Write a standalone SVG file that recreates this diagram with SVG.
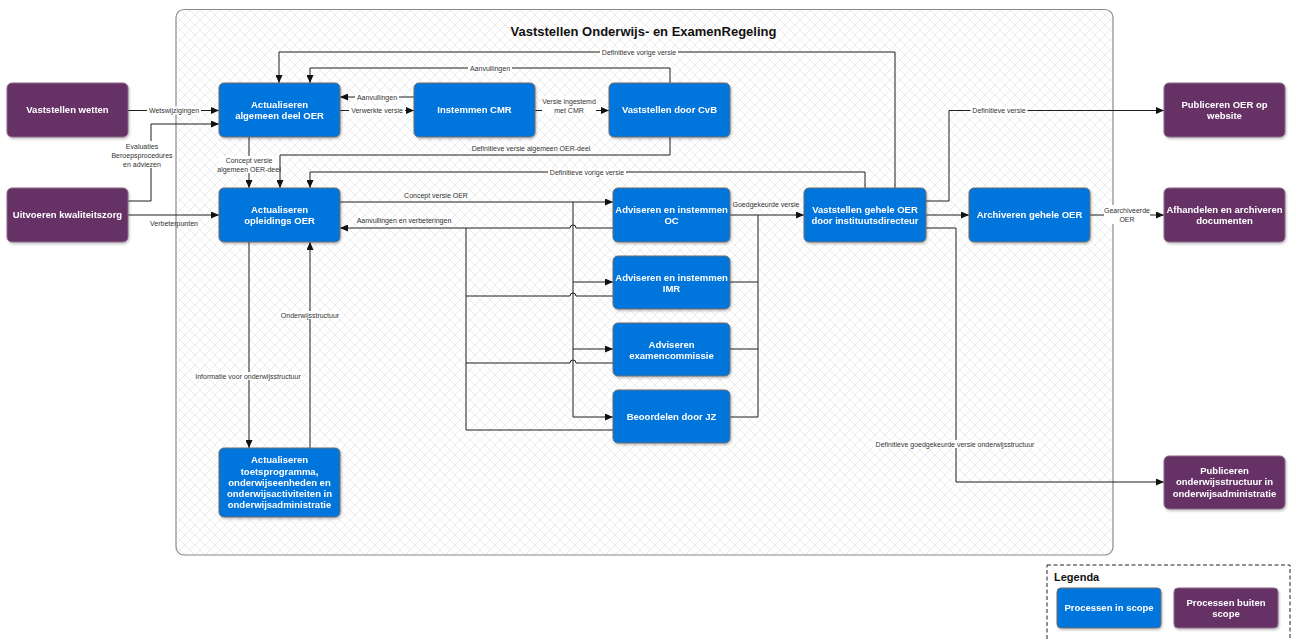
<svg xmlns="http://www.w3.org/2000/svg" width="1293" height="639" viewBox="0 0 1293 639">
<style>
.in{fill:#0274DC;stroke:#6d6d6d;stroke-width:1}
.out{fill:#663366;stroke:#8a6a86;stroke-width:1}
.nt{font-family:"Liberation Sans",Arial,sans-serif;font-weight:bold;font-size:9.5px;fill:#fff;text-anchor:middle}
.ln{fill:none;stroke:#1e1e1e;stroke-width:1}
.ar{marker-end:url(#ah)}
.lb{font-family:"Liberation Sans",Arial,sans-serif;font-size:7px;fill:#333;text-anchor:middle}
.bg{fill:#fff}
</style>
<defs>
<pattern id="hatch" width="10" height="10" patternUnits="userSpaceOnUse">
<rect width="10" height="10" fill="#fff"/>
<path d="M0,0 L10,10 M10,0 L0,10" stroke="#ebebeb" stroke-width="1"/>
</pattern>
<marker id="ah" markerWidth="9" markerHeight="7" refX="8" refY="3.5" orient="auto" markerUnits="userSpaceOnUse">
<path d="M0,0 L8,3.5 L0,7 z" fill="#111"/>
</marker>
<filter id="sh" x="-10%" y="-10%" width="130%" height="140%">
<feDropShadow dx="1" dy="1.5" stdDeviation="1" flood-color="#000" flood-opacity="0.25"/>
</filter>
</defs>

<rect width="1293" height="639" fill="#fff"/>
<g id="container">
<rect x="176" y="9.5" width="937" height="545.5" rx="8" fill="url(#hatch)" stroke="#8a8a8a" stroke-width="1.2"/>
<text x="643.5" y="36" font-family="'Liberation Sans',Arial,sans-serif" font-weight="bold" font-size="13px" fill="#111" text-anchor="middle">Vaststellen Onderwijs- en ExamenRegeling</text>
</g>

<g id="connectors">
<g id="c1"><path class="ln ar" d="M128,110.5 H219"/><rect class="bg" x="147" y="106.5" width="54" height="8"/><text class="lb" x="174" y="113">Wetswijzigingen</text></g>
<g id="c2"><path class="ln ar" d="M128,201 H151 V124 H219"/><rect class="bg" x="112" y="141" width="61" height="27"/><text class="lb" x="142" y="148.5">Evaluaties</text><text class="lb" x="142" y="157.5">Beroepsprocedures</text><text class="lb" x="142" y="166.5">en adviezen</text></g>
<g id="c3"><path class="ln ar" d="M128,215 H219"/><text class="lb" x="174" y="225.5">Verbeterpunten</text></g>
<g id="c4"><path class="ln ar" d="M340,110.5 H414"/><rect class="bg" x="349" y="106.5" width="56" height="8"/><text class="lb" x="377" y="113">Verwerkte versie</text></g>
<g id="c5"><path class="ln ar" d="M414,97 H340"/><rect class="bg" x="355" y="93" width="44" height="8"/><text class="lb" x="377" y="99.5">Aanvullingen</text></g>
<g id="c6"><path class="ln ar" d="M535,110.5 H609"/><rect class="bg" x="542" y="96" width="54" height="18"/><text class="lb" x="569" y="104">Versie ingestemd</text><text class="lb" x="569" y="113">met CMR</text></g>
<g id="c7"><path class="ln ar" d="M670,83 V68 H310 V83"/><rect class="bg" x="468" y="64" width="44" height="8"/><text class="lb" x="490" y="70.5">Aanvullingen</text></g>
<g id="c8"><path class="ln ar" d="M895,188 V52 H279 V83"/><rect class="bg" x="600" y="48" width="78" height="8"/><text class="lb" x="639" y="54.5">Definitieve vorige versie</text></g>
<g id="c10"><path class="ln ar" d="M249,137 V188"/><rect class="bg" x="219" y="156" width="60" height="17"/><text class="lb" x="249" y="162.5">Concept versie</text><text class="lb" x="249" y="171.5">algemeen OER-deel</text></g>
<g id="c9"><path class="ln ar" d="M670,137 V155 H280 V188"/><text class="lb" x="531" y="150.5">Definitieve versie algemeen OER-deel</text></g>
<g id="c11"><path class="ln ar" d="M865,188 V172 H310 V188"/><rect class="bg" x="548" y="168" width="78" height="8"/><text class="lb" x="587" y="174.5">Definitieve vorige versie</text></g>
<g id="c12"><path class="ln ar" d="M340,202 H613"/><path class="ln" d="M573,202 V417"/><path class="ln ar" d="M573,282 H613"/><path class="ln ar" d="M573,349 H613"/><path class="ln ar" d="M573,417 H613"/><text class="lb" x="436" y="198">Concept versie OER</text></g>
<g id="c13"><path class="ln ar" d="M613,228 H576 A3,3 0 0 0 570,228 H340"/><path class="ln" d="M613,296 H576 A3,3 0 0 0 570,296 H466"/><path class="ln" d="M613,363 H576 A3,3 0 0 0 570,363 H466"/><path class="ln" d="M613,430 H466 V228"/><text class="lb" x="404" y="223">Aanvullingen en verbeteringen</text></g>
<g id="c14"><path class="ln ar" d="M730,215 H804"/><path class="ln" d="M758,417 V215 M730,282 H758 M730,349 H758 M730,417 H758"/><text class="lb" x="766" y="207">Goedgekeurde versie</text></g>
<g id="c15"><path class="ln ar" d="M926,215 H969"/></g>
<g id="c16"><path class="ln ar" d="M926,201 H949 V110.5 H1164"/><rect class="bg" x="970.5" y="106.5" width="57" height="8"/><text class="lb" x="999" y="113">Definitieve versie</text></g>
<g id="c17"><path class="ln ar" d="M926,228 H956 V482 H1164"/><rect class="bg" x="873" y="440" width="164" height="8"/><text class="lb" x="955" y="446.5">Definitieve goedgekeurde versie onderwijsstructuur</text></g>
<g id="c18"><path class="ln ar" d="M1090,215 H1164"/><rect class="bg" x="1104" y="205" width="46" height="19"/><text class="lb" x="1127" y="213">Gearchiveerde</text><text class="lb" x="1127" y="222">OER</text></g>
<g id="c19"><path class="ln ar" d="M249,242 V448"/><rect class="bg" x="193" y="372" width="110" height="8"/><text class="lb" x="248" y="378.5">Informatie voor onderwijsstructuur</text></g>
<g id="c20"><path class="ln ar" d="M310,448 V242"/><rect class="bg" x="279" y="311" width="62" height="8"/><text class="lb" x="310" y="317.5">Onderwijsstructuur</text></g>
</g>

<g id="n-wetten" filter="url(#sh)"><rect class="out" x="7" y="83" width="121" height="54" rx="5"/><text class="nt" x="67.5" y="113.4">Vaststellen wetten</text></g>
<g id="n-kwaliteit" filter="url(#sh)"><rect class="out" x="7" y="188" width="121" height="54" rx="5"/><text class="nt" x="67.5" y="218.4">Uitvoeren kwaliteitszorg</text></g>
<g id="n-algemeen" filter="url(#sh)"><rect class="in" x="219" y="83" width="121" height="54" rx="5"/><text class="nt" x="279.5" y="108.4">Actualiseren</text><text class="nt" x="279.5" y="119.4">algemeen deel OER</text></g>
<g id="n-cmr" filter="url(#sh)"><rect class="in" x="414" y="83" width="121" height="54" rx="5"/><text class="nt" x="474.5" y="113.4">Instemmen CMR</text></g>
<g id="n-cvb" filter="url(#sh)"><rect class="in" x="609" y="83" width="121" height="54" rx="5"/><text class="nt" x="669.5" y="113.4">Vaststellen door CvB</text></g>
<g id="n-opleidings" filter="url(#sh)"><rect class="in" x="219" y="188" width="121" height="54" rx="5"/><text class="nt" x="279.5" y="213.4">Actualiseren</text><text class="nt" x="279.5" y="224.4">opleidings OER</text></g>
<g id="n-oc" filter="url(#sh)"><rect class="in" x="613" y="188" width="117" height="54" rx="5"/><text class="nt" x="671.5" y="213.4">Adviseren en instemmen</text><text class="nt" x="671.5" y="224.4">OC</text></g>
<g id="n-imr" filter="url(#sh)"><rect class="in" x="613" y="256" width="117" height="53" rx="5"/><text class="nt" x="671.5" y="280.9">Adviseren en instemmen</text><text class="nt" x="671.5" y="291.9">IMR</text></g>
<g id="n-exam" filter="url(#sh)"><rect class="in" x="613" y="323" width="117" height="53" rx="5"/><text class="nt" x="671.5" y="347.9">Adviseren</text><text class="nt" x="671.5" y="358.9">examencommissie</text></g>
<g id="n-jz" filter="url(#sh)"><rect class="in" x="613" y="390" width="117" height="53" rx="5"/><text class="nt" x="671.5" y="419.9">Beoordelen door JZ</text></g>
<g id="n-gehele" filter="url(#sh)"><rect class="in" x="804" y="188" width="122" height="54" rx="5"/><text class="nt" x="865" y="213.4">Vaststellen gehele OER</text><text class="nt" x="865" y="224.4">door instituutsdirecteur</text></g>
<g id="n-archiveren" filter="url(#sh)"><rect class="in" x="969" y="188" width="121" height="54" rx="5"/><text class="nt" x="1029.5" y="218.4">Archiveren gehele OER</text></g>
<g id="n-toets" filter="url(#sh)"><rect class="in" x="219" y="448" width="121" height="69" rx="5"/><text class="nt" x="279.5" y="463.4">Actualiseren</text><text class="nt" x="279.5" y="474.6">toetsprogramma,</text><text class="nt" x="279.5" y="485.9">onderwijseenheden en</text><text class="nt" x="279.5" y="497.1">onderwijsactiviteiten in</text><text class="nt" x="279.5" y="508.4">onderwijsadministratie</text></g>
<g id="n-website" filter="url(#sh)"><rect class="out" x="1164" y="83" width="121" height="54" rx="5"/><text class="nt" x="1224.5" y="108.4">Publiceren OER op</text><text class="nt" x="1224.5" y="119.4">website</text></g>
<g id="n-afhandelen" filter="url(#sh)"><rect class="out" x="1164" y="188" width="121" height="54" rx="5"/><text class="nt" x="1224.5" y="213.4">Afhandelen en archiveren</text><text class="nt" x="1224.5" y="224.4">documenten</text></g>
<g id="n-publ-struct" filter="url(#sh)"><rect class="out" x="1164" y="456" width="121" height="53" rx="5"/><text class="nt" x="1224.5" y="474.1">Publiceren</text><text class="nt" x="1224.5" y="485.4">onderwijsstructuur in</text><text class="nt" x="1224.5" y="496.6">onderwijsadministratie</text></g>

<g id="legend">
<rect x="1047" y="565" width="243" height="80" fill="#fff" stroke="#222" stroke-width="1" stroke-dasharray="4,2.5"/>
<text x="1054" y="581" font-family="'Liberation Sans',Arial,sans-serif" font-weight="bold" font-size="11px" fill="#111">Legenda</text>
<g id="lg-in" filter="url(#sh)"><rect class="in" x="1057" y="588" width="104" height="40" rx="4"/><text class="nt" x="1109" y="611.4">Processen in scope</text></g>
<g id="lg-out" filter="url(#sh)"><rect class="out" x="1174" y="588" width="104" height="40" rx="4"/><text class="nt" x="1226" y="606.1">Processen buiten</text><text class="nt" x="1226" y="616.7">scope</text></g>
</g>
</svg>
